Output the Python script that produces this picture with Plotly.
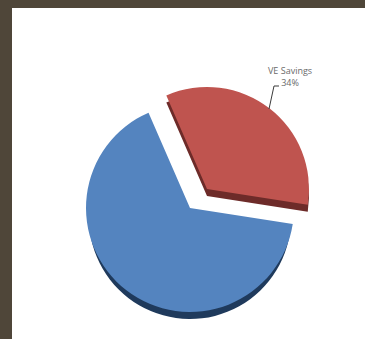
import plotly.graph_objects as go

# Cost split shown by the exploded pie
labels = ["VE Savings", "Remaining Cost"]
values = [34, 66]
face_colors = ["#bf544f", "#5484bf"]
side_colors = ["#6d2b29", "#1f3a5c"]

WIDTH, HEIGHT = 365, 339
ROTATION = -23.5
# Each slice sits on its own pie so the exploded one can be offset freely
FACES = [(207, 189, 102), (190, 208, 104)]
SIDES = [(207, 196, 102), (190, 218, 101)]
CLEAR = "rgba(0,0,0,0)"


def px(x):
    return x / WIDTH


def py(y):
    return 1 - y / HEIGHT


def slice_layer(index, color, geometry):
    cx, cy, radius = geometry
    colors = [CLEAR, CLEAR]
    colors[index] = color
    return go.Pie(
        labels=labels,
        values=values,
        sort=False,
        direction="clockwise",
        rotation=ROTATION,
        domain=dict(
            x=[px(cx - radius), px(cx + radius)],
            y=[py(cy + radius), py(cy - radius)],
        ),
        marker=dict(colors=colors, line=dict(width=0)),
        textinfo="none",
        hoverinfo="skip",
        showlegend=False,
    )


traces = [slice_layer(i, side_colors[i], SIDES[i]) for i in (0, 1)]
traces += [slice_layer(i, face_colors[i], FACES[i]) for i in (0, 1)]
fig = go.Figure(traces)

fig.update_layout(
    width=WIDTH,
    height=HEIGHT,
    autosize=False,
    margin=dict(l=0, r=0, t=0, b=0),
    paper_bgcolor="#4f4639",
    shapes=[
        # White slide area inside the dark frame
        dict(type="rect", xref="paper", yref="paper", layer="below",
             x0=px(12), x1=1, y0=0, y1=py(8),
             fillcolor="#ffffff", line=dict(width=0)),
        # Leader line from the label to the slice
        dict(type="path", xref="paper", yref="paper", layer="above",
             path=f"M {px(269)} {py(109)} L {px(274)} {py(86)} L {px(279)} {py(86)}",
             line=dict(color="#3a3a3a", width=1)),
    ],
    annotations=[
        dict(xref="paper", yref="paper", x=px(290), y=py(76),
             text=f"{labels[0]}<br>{values[0]}%", showarrow=False,
             xanchor="center", yanchor="middle", align="center",
             font=dict(family="Open Sans", size=9, color="#6a6a6a")),
    ],
)

fig.write_html("out.html")
